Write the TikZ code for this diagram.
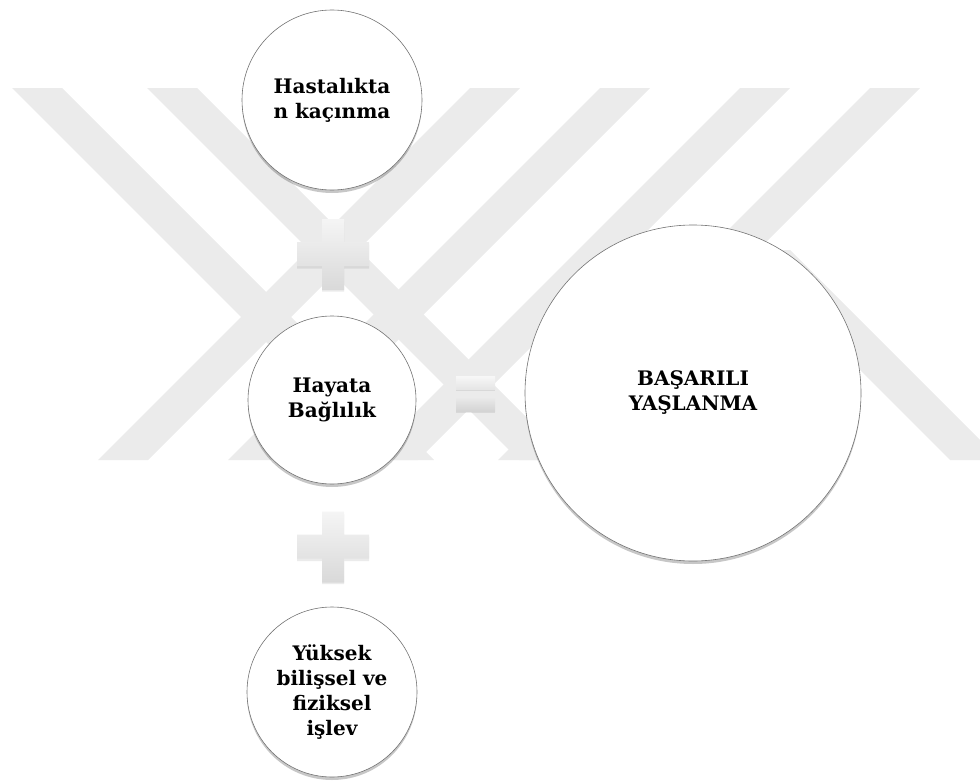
\documentclass[tikz,border=0pt]{standalone}
\usepackage{fontspec}
\setmainfont{DejaVu Serif}
\usetikzlibrary{shadows}
\tikzset{
  bubble/.style={circle,draw=black!55,line width=.6pt,fill=white,inner sep=0pt,align=center,
    font=\bfseries\fontsize{20}{25}\selectfont,
    drop shadow={shadow xshift=0pt,shadow yshift=-3pt,opacity=.22,fill=black}},
  band/.style={fill=black!8},
  sign/.style={top color=black!4,bottom color=black!15,draw=none}
}
\begin{document}
\begin{tikzpicture}[x=1pt,y=-1pt]
\useasboundingbox(0,0)rectangle(980,784);
% watermark bands
\begin{scope}
\clip(0,0)rectangle(980,784);
\foreach \s in {12,147}
  \fill[band](\s,88)--++(50,0)--++(372,372)--++(-50,0)--cycle;
\foreach \s in {470,600,740,870}
  \fill[band](\s,88)--++(50,0)--++(-372,372)--++(-50,0)--cycle;
\fill[band](740,250)--++(50,0)--++(210,210)--++(-50,0)--cycle;
\end{scope}
% plus and equals signs
\foreach \y in {254.5,547}{
  \fill[black,opacity=.08](322,\y-33)--++(22,0)--++(0,23)--++(25,0)--++(0,24)--++(-25,0)--++(0,23)--++(-22,0)--++(0,-23)--++(-25,0)--++(0,-24)--++(25,0)--cycle;
  \shade[sign](322,\y-35.5)--++(22,0)--++(0,23)--++(25,0)--++(0,24)--++(-25,0)--++(0,24)--++(-22,0)--++(0,-24)--++(-25,0)--++(0,-24)--++(25,0)--cycle;
}
\fill[black,opacity=.08](456,378)rectangle(495,391);
\fill[black,opacity=.08](456,399)rectangle(495,413);
\shade[top color=black!3,bottom color=black!10](456,376)rectangle(495,389);
\shade[top color=black!8,bottom color=black!17](456,397)rectangle(495,411);
% circles
\node[bubble,minimum size=180pt](hast)at(332,100){Hastalıkta\\n kaçınma};
\node[bubble,minimum size=168pt](hayat)at(332,400){Hayata\\Bağlılık};
\node[bubble,minimum size=170pt](yuksek)at(332,692){Yüksek\\bilişsel ve\\fiziksel\\işlev};
\node[bubble,minimum size=336pt](basari)at(693,393){BAŞARILI\\YAŞLANMA};
\end{tikzpicture}
\end{document}
